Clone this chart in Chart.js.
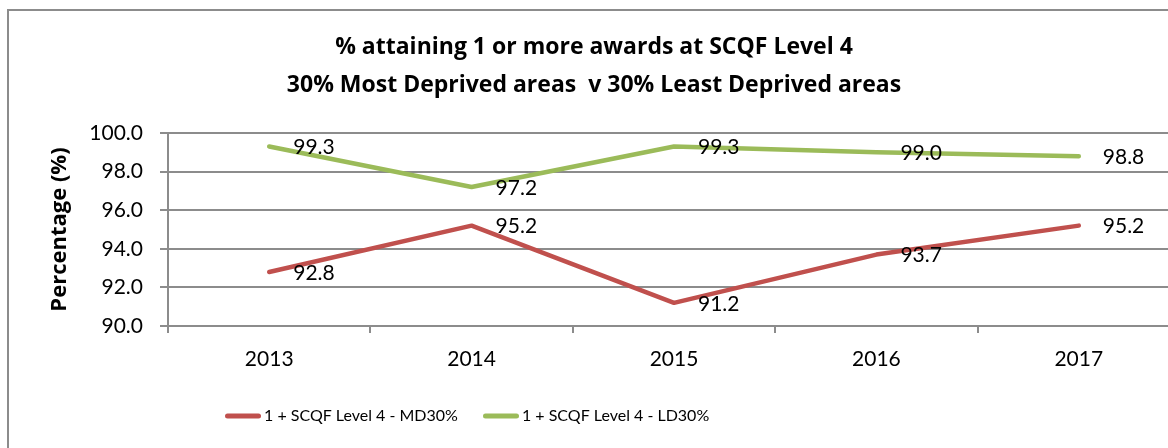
<!DOCTYPE html>
<html>
<head>
<meta charset="utf-8">
<script src="https://cdn.jsdelivr.net/npm/chart.js@4"></script>
<style>
html,body{margin:0;padding:0;overflow:hidden;background:#fff;}
#wrap{width:1206px;height:448px;position:relative;}
</style>
</head>
<body>
<div id="wrap"><canvas id="c" width="1206" height="448"></canvas></div>
<script>
const categories = ['2013', '2014', '2015', '2016', '2017'];
const seriesMD30 = [92.8, 95.2, 91.2, 93.7, 95.2];
const seriesLD30 = [99.3, 97.2, 99.3, 99.0, 98.8];
const seriesNames = ['1 + SCQF Level 4 - MD30%', '1 + SCQF Level 4 - LD30%'];
const titleLines = ['% attaining 1 or more awards at SCQF Level 4', '30% Most Deprived areas  v 30% Least Deprived areas'];
const yAxisTitle = 'Percentage (%)';
const yMin = 90, yMax = 100, yStep = 2;

const FONT = 'Lato, "Open Sans", sans-serif';
const BFONT = '"Open Sans", Lato, sans-serif';
const GRID = '#8c8c8c';
const LEG_PAD = 30;

function swatch(color) {
  const c = document.createElement('canvas');
  c.width = 36; c.height = 6;
  const g = c.getContext('2d');
  g.strokeStyle = color;
  g.lineWidth = 5;
  g.lineCap = 'round';
  g.beginPath();
  g.moveTo(2.5, 3);
  g.lineTo(33.5, 3);
  g.stroke();
  return c;
}

const borderPlugin = {
  id: 'outerBorder',
  beforeDraw(chart) {
    const ctx = chart.ctx;
    ctx.save();
    ctx.fillStyle = '#fff';
    ctx.fillRect(0, 0, chart.width, chart.height);
    ctx.strokeStyle = GRID;
    ctx.lineWidth = 2;
    ctx.strokeRect(8, 10, 1172, 460);
    ctx.restore();
  }
};

const labelPlugin = {
  id: 'valueLabels',
  afterDatasetsDraw(chart) {
    const ctx = chart.ctx;
    ctx.save();
    ctx.font = '21px ' + FONT;
    ctx.fillStyle = '#000';
    ctx.textAlign = 'left';
    ctx.textBaseline = 'middle';
    chart.data.datasets.forEach((ds, i) => {
      const meta = chart.getDatasetMeta(i);
      meta.data.forEach((pt, j) => {
        ctx.fillText(ds.data[j].toFixed(1), pt.x + 24, pt.y + 1);
      });
    });
    ctx.restore();
  }
};

const legendShift = {
  id: 'legendShift',
  afterLayout(chart) {
    const lg = chart.legend;
    if (!lg) return;
    const pad = lg.options.labels.padding;
    const w = lg.right - lg.left;
    lg.left = 230 - pad;
    lg.right = lg.left + w;
  }
};

new Chart(document.getElementById('c'), {
  type: 'line',
  data: {
    labels: categories,
    datasets: [
      { label: seriesNames[0], data: seriesMD30, borderColor: '#C0504D', backgroundColor: '#C0504D' },
      { label: seriesNames[1], data: seriesLD30, borderColor: '#9BBB59', backgroundColor: '#9BBB59' }
    ]
  },
  options: {
    responsive: false,
    animation: false,
    devicePixelRatio: 1,
    layout: { padding: { top: 10, left: 8, right: 26, bottom: 14 } },
    elements: {
      line: { borderWidth: 4.5, tension: 0, borderCapStyle: 'round', borderJoinStyle: 'round' },
      point: { radius: 0, hoverRadius: 0 }
    },
    plugins: {
      title: {
        display: true,
        text: titleLines,
        color: '#000',
        font: { family: BFONT, size: 23, weight: 'bold', lineHeight: 38 / 23 },
        padding: { top: 18, bottom: 29 }
      },
      legend: {
        position: 'bottom',
        align: 'start',
        labels: {
          color: '#000',
          font: { family: FONT, size: 16 },
          usePointStyle: true,
          pointStyleWidth: 26,
          padding: LEG_PAD,
          generateLabels(chart) {
            return chart.data.datasets.map((ds, i) => ({
              text: ds.label,
              datasetIndex: i,
              pointStyle: swatch(ds.borderColor),
              strokeStyle: ds.borderColor,
              fillStyle: ds.borderColor,
              lineWidth: 0,
              fontColor: '#000'
            }));
          }
        }
      },
      tooltip: { enabled: false }
    },
    scales: {
      x: {
        offset: true,
        grid: { offset: true, drawOnChartArea: false, color: GRID, lineWidth: 2, tickLength: 7 },
        border: { color: GRID, width: 2 },
        ticks: { color: '#000', font: { family: FONT, size: 21 }, padding: 14, maxRotation: 0 },
        afterFit(scale) { scale.height = 82 - LEG_PAD; }
      },
      y: {
        min: yMin,
        max: yMax,
        grid: { color: GRID, lineWidth: 2, tickLength: 8 },
        border: { color: GRID, width: 2 },
        ticks: {
          stepSize: yStep,
          color: '#000',
          font: { family: FONT, size: 21 },
          padding: 17,
          callback: (v) => Number(v).toFixed(1)
        },
        title: {
          display: true,
          text: yAxisTitle,
          color: '#000',
          font: { family: BFONT, size: 22, weight: 'bold', lineHeight: 1.2 },
          padding: { top: 39, bottom: 0 }
        },
        afterFit(scale) { scale.width = 160; }
      }
    }
  },
  plugins: [borderPlugin, labelPlugin, legendShift]
});
</script>
</body>
</html>
